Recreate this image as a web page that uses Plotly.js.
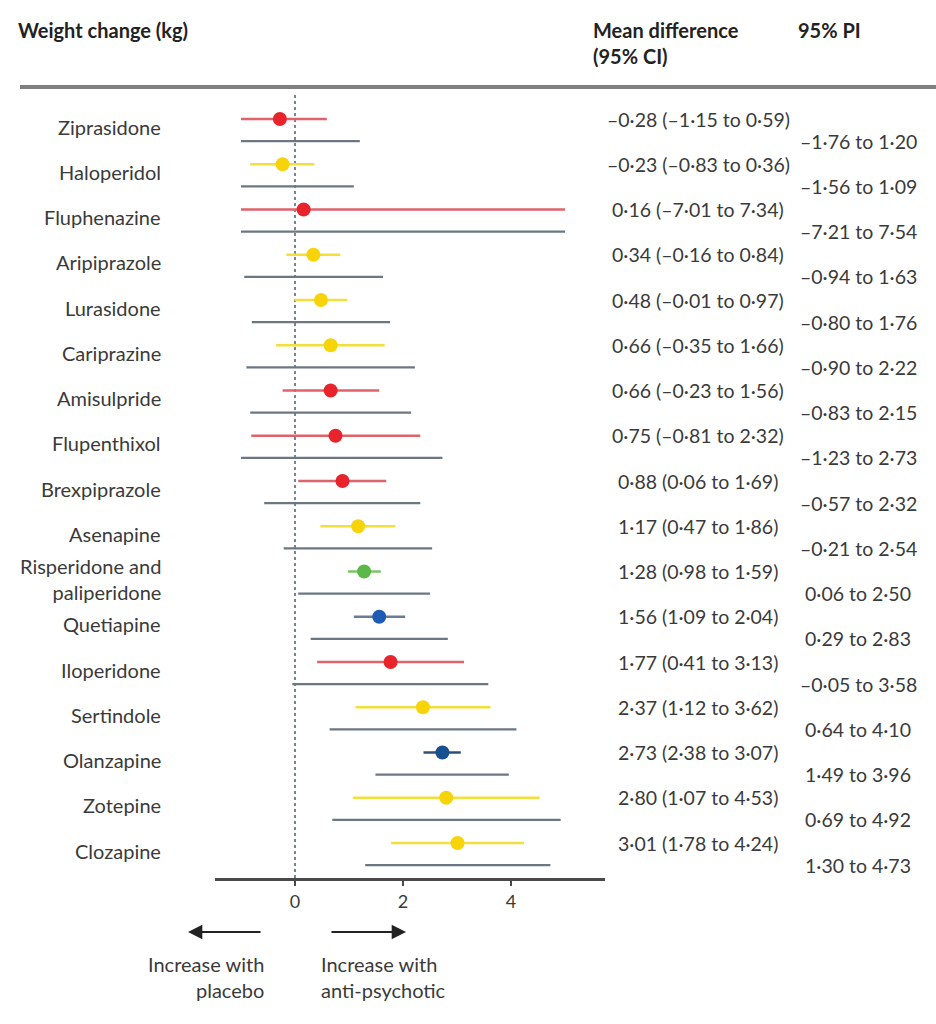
<!DOCTYPE html>
<html>
<head>
<meta charset="utf-8">
<script src="https://cdn.plot.ly/plotly-3.0.1.min.js"></script>
<style>
html,body{margin:0;padding:0;background:#fff;}
#chart{width:936px;height:1024px;}
</style>
</head>
<body>
<div id="chart"></div>
<script>
// ---- data ----
const drugs = ["Ziprasidone","Haloperidol","Fluphenazine","Aripiprazole","Lurasidone","Cariprazine","Amisulpride","Flupenthixol","Brexpiprazole","Asenapine","Risperidone and<br>paliperidone","Quetiapine","Iloperidone","Sertindole","Olanzapine","Zotepine","Clozapine"];
const meanDiff = [-0.28,-0.23,0.16,0.34,0.48,0.66,0.66,0.75,0.88,1.17,1.28,1.56,1.77,2.37,2.73,2.80,3.01];
const ciLow  = [-1.15,-0.83,-7.01,-0.16,-0.01,-0.35,-0.23,-0.81,0.06,0.47,0.98,1.09,0.41,1.12,2.38,1.07,1.78];
const ciHigh = [0.59,0.36,7.34,0.84,0.97,1.66,1.56,2.32,1.69,1.86,1.59,2.04,3.13,3.62,3.07,4.53,4.24];
const piLow  = [-1.76,-1.56,-7.21,-0.94,-0.80,-0.90,-0.83,-1.23,-0.57,-0.21,0.06,0.29,-0.05,0.64,1.49,0.69,1.30];
const piHigh = [1.20,1.09,7.54,1.63,1.76,2.22,2.15,2.73,2.32,2.54,2.50,2.83,3.58,4.10,3.96,4.92,4.73];
const group  = ["red","yellow","red","yellow","yellow","yellow","red","red","red","yellow","green","blue","red","yellow","navy","yellow","yellow"];
const xTicks = [0,2,4];

// ---- styling ----
const dotColor  = {red:"#e8232b", yellow:"#f7d40a", green:"#5cb848", blue:"#1d5cb4", navy:"#16508e"};
const lineColor = {red:"#e0626b", yellow:"#f3df3c", green:"#7cc466", blue:"#6a7d98", navy:"#2d4f78"};
const piColor = "#6d7784";
const clipLo = -1.0, clipHi = 5.0;
const piOffset = 0.49;
const FONT = "Lato, 'Open Sans', sans-serif";
const TXT = "#3a3a3a";
const LABEL_SIZE = 20, NUM_SIZE = 19.5, HEAD_SIZE = 20;

function fmt(v){
  const s = Math.abs(v).toFixed(2).replace(".", "\u00B7");
  return (v < 0 ? "\u2013" : "") + s;
}
const clip = v => Math.max(clipLo, Math.min(clipHi, v));

const traces = [];
// PI lines
{
  const xs = [], ys = [];
  drugs.forEach((d,i)=>{ xs.push(clip(piLow[i]), clip(piHigh[i]), null); ys.push(i+piOffset, i+piOffset, null); });
  traces.push({type:"scatter", mode:"lines", x:xs, y:ys, line:{color:piColor, width:2.2}, hoverinfo:"skip", showlegend:false});
}
// CI lines + points by group
Object.keys(dotColor).forEach(g=>{
  const xs=[], ys=[], mx=[], my=[];
  drugs.forEach((d,i)=>{
    if(group[i]!==g) return;
    xs.push(clip(ciLow[i]), clip(ciHigh[i]), null); ys.push(i,i,null);
    mx.push(meanDiff[i]); my.push(i);
  });
  traces.push({type:"scatter", mode:"lines", x:xs, y:ys, line:{color:lineColor[g], width:2.6}, hoverinfo:"skip", showlegend:false});
  traces.push({type:"scatter", mode:"markers", x:mx, y:my, marker:{color:dotColor[g], size:14}, showlegend:false, cliponaxis:false});
});

// plot area geometry (pixels)
const L=215, R=605, T=93, B=878, W=936, H=1024;
const pw = R-L, ph = B-T;
const px2x = p => (p-L)/pw;
const py2y = p => (B-p)/ph;

const ann = [];
drugs.forEach((d,i)=>{
  ann.push({xref:"paper", yref:"y", x:px2x(163), y:i+0.17, text:d, xanchor:"right", yanchor:"middle", align:"right", showarrow:false, font:{family:FONT,size:LABEL_SIZE,color:TXT}});
  ann.push({xref:"paper", yref:"y", x:px2x(698), y:i, text:`${fmt(meanDiff[i])} (${fmt(ciLow[i])} to ${fmt(ciHigh[i])})`, xanchor:"center", yanchor:"middle", showarrow:false, font:{family:FONT,size:NUM_SIZE,color:TXT}});
  ann.push({xref:"paper", yref:"y", x:px2x(858), y:i+piOffset, text:`${fmt(piLow[i])} to ${fmt(piHigh[i])}`, xanchor:"center", yanchor:"middle", showarrow:false, font:{family:FONT,size:NUM_SIZE,color:TXT}});
});
// headers
ann.push({xref:"paper", yref:"paper", x:px2x(16), y:py2y(30), text:"<b>Weight change (kg)</b>", xanchor:"left", yanchor:"middle", showarrow:false, font:{family:FONT,size:HEAD_SIZE,color:"#222"}});
ann.push({xref:"paper", yref:"paper", x:px2x(591), y:py2y(43), text:"<b>Mean difference<br>(95% CI)</b>", xanchor:"left", yanchor:"middle", align:"left", showarrow:false, font:{family:FONT,size:HEAD_SIZE,color:"#222"}});
ann.push({xref:"paper", yref:"paper", x:px2x(796), y:py2y(30), text:"<b>95% PI</b>", xanchor:"left", yanchor:"middle", showarrow:false, font:{family:FONT,size:HEAD_SIZE,color:"#222"}});
// arrows
ann.push({xref:"paper", yref:"paper", x:px2x(188), y:py2y(932), ax:74, ay:0, text:"", showarrow:true, arrowhead:2, arrowsize:1.3, arrowwidth:2.2, arrowcolor:"#222"});
ann.push({xref:"paper", yref:"paper", x:px2x(406), y:py2y(932), ax:-76, ay:0, text:"", showarrow:true, arrowhead:2, arrowsize:1.3, arrowwidth:2.2, arrowcolor:"#222"});
ann.push({xref:"paper", yref:"paper", x:px2x(266), y:py2y(977), text:"Increase with<br>placebo", xanchor:"right", yanchor:"middle", align:"right", showarrow:false, font:{family:FONT,size:LABEL_SIZE,color:TXT}});
ann.push({xref:"paper", yref:"paper", x:px2x(319), y:py2y(977), text:"Increase with<br>anti-psychotic", xanchor:"left", yanchor:"middle", align:"left", showarrow:false, font:{family:FONT,size:LABEL_SIZE,color:TXT}});

const shapes = [
  {type:"line", xref:"paper", yref:"paper", x0:px2x(20), x1:px2x(936), y0:py2y(87), y1:py2y(87), line:{color:"#808080", width:4}},
  {type:"line", xref:"x", yref:"paper", x0:0, x1:0, y0:0, y1:1, line:{color:"#7a8594", width:2, dash:"dot"}, layer:"below"}
];

const n = drugs.length;
const yTop = -(119-T)/45.25, yBot = (n-1) + (B-843)/45.25;
const layout = {
  width:W, height:H,
  margin:{l:L, r:W-R, t:T, b:H-B, pad:0},
  paper_bgcolor:"#fff", plot_bgcolor:"#fff",
  xaxis:{range:[-(295-L)/54, (R-295)/54], tickvals:xTicks, ticktext:xTicks.map(String), showgrid:false, zeroline:false,
         showline:true, linecolor:"#4a4a4a", linewidth:3, ticks:"outside", ticklen:5, tickwidth:2, tickcolor:"#4a4a4a",
         tickfont:{family:FONT,size:18,color:TXT}, fixedrange:true},
  yaxis:{range:[yBot, yTop], showgrid:false, zeroline:false, showline:false, showticklabels:false, ticks:"", fixedrange:true},
  annotations:ann, shapes:shapes, showlegend:false
};
Plotly.newPlot("chart", traces, layout, {staticPlot:true});
</script>
</body>
</html>
